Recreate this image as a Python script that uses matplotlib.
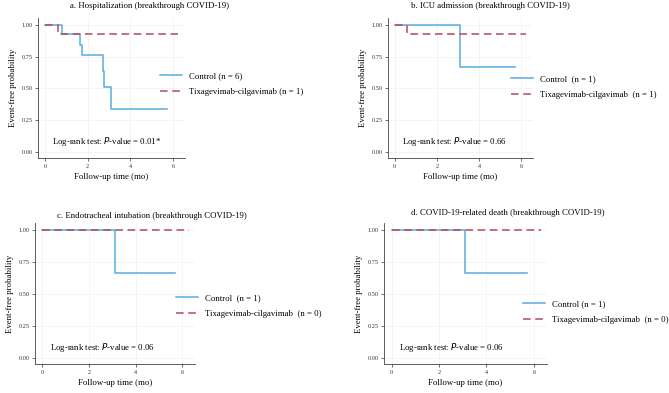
import matplotlib
matplotlib.use('Agg')
import matplotlib.pyplot as plt

plt.rcParams['font.family'] = ['Liberation Serif', 'DejaVu Serif']

W, H = 669, 393

# Kaplan-Meier step data (time in months, event-free probability)
titles = ['a. Hospitalization (breakthrough COVID-19)',
          'b. ICU admission (breakthrough COVID-19)',
          'c. Endotracheal intubation (breakthrough COVID-19)',
          'd. COVID-19-related death (breakthrough COVID-19)']

ctrl_t = [[0, 0.8, 1.65, 1.75, 2.72, 2.75, 3.1, 5.7],
          [0, 3.1, 5.7],
          [0, 3.1, 5.7],
          [0, 3.1, 5.7]]
ctrl_s = [[1.0, 0.925, 0.845, 0.76, 0.635, 0.51, 0.34, 0.34],
          [1.0, 0.665, 0.665],
          [1.0, 0.665, 0.665],
          [1.0, 0.665, 0.665]]

tixa_t = [[0, 0.6, 6.2],
          [0, 0.6, 6.2],
          [0, 6.3],
          [0, 6.3]]
tixa_s = [[1.0, 0.925, 0.925],
          [1.0, 0.925, 0.925],
          [1.0, 1.0],
          [1.0, 1.0]]

ctrl_labels = ['Control (n = 6)', 'Control  (n = 1)', 'Control  (n = 1)', 'Control (n = 1)']
tixa_labels = ['Tixagevimab-cilgavimab (n = 1)', 'Tixagevimab-cilgavimab  (n = 1)',
               'Tixagevimab-cilgavimab  (n = 0)', 'Tixagevimab-cilgavimab  (n = 0)']
pvals = ['0.01*', '0.66', '0.06', '0.06']

# axes boxes in pixels: left, top, right, bottom
boxes = [(38, 18, 185, 158), (388, 18, 533, 158),
         (35, 223, 195, 364), (384, 223, 547, 364)]
# legend anchor (left x, center y) in pixels
leg_pos = [(152, 84), (503, 87), (168, 306), (515, 312)]
title_pos = [(150, 6), (490, 6), (152, 216), (508, 213)]

blue = '#5AACDE'
red = '#B04A60'

fig = plt.figure(figsize=(W / 100, H / 100), dpi=100)

for i in range(4):
    l, t, r, b = boxes[i]
    ax = fig.add_axes([l / W, 1 - b / H, (r - l) / W, (b - t) / H])
    ax.step(ctrl_t[i], ctrl_s[i], where='post', color=blue, lw=1.1, label=ctrl_labels[i])
    ax.step(tixa_t[i], tixa_s[i], where='post', color=red, lw=1.1,
            dashes=(5, 3), label=tixa_labels[i])
    ax.set_xlim(-0.32, 6.55)
    ax.set_ylim(-0.05, 1.055)
    ax.set_xticks([0, 2, 4, 6])
    ax.set_yticks([0, 0.25, 0.5, 0.75, 1.0])
    ax.set_yticklabels(['0.00', '0.25', '0.50', '0.75', '1.00'])
    ax.tick_params(labelsize=4.5, length=2, width=0.5, pad=2, colors='#333333')
    ax.grid(True, color='#f0f0f0', lw=0.5)
    for s in ['top', 'right']:
        ax.spines[s].set_visible(False)
    for s in ['left', 'bottom']:
        ax.spines[s].set_linewidth(0.6)
        ax.spines[s].set_color('#444444')
    ax.set_xlabel('Follow-up time (mo)', fontsize=6.3, labelpad=3)
    ax.set_ylabel('Event-free probability', fontsize=6.3, labelpad=3)
    ax.text(0.32, 0.08, 'Log-rank test: $\\it{P}$-value = ' + pvals[i], fontsize=6.3,
            va='center', ha='left')
    tx, ty = title_pos[i]
    fig.text(tx / W, 1 - ty / H, titles[i], fontsize=6.3, ha='center', va='center')
    lx, ly = leg_pos[i]
    ax.legend(loc='center left', bbox_to_anchor=(lx / W, 1 - ly / H),
              bbox_transform=fig.transFigure, frameon=False, fontsize=6.3,
              handlelength=2.5, handletextpad=0.8, labelspacing=0.9)

fig.savefig('out.png', dpi=100)
